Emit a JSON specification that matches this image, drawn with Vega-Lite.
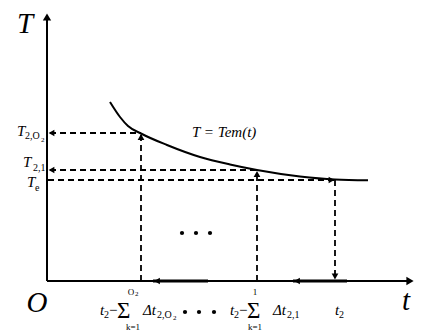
{
  "$schema": "https://vega.github.io/schema/vega-lite/v6.json",
  "width": 424,
  "height": 334,
  "autosize": {"type": "none"},
  "padding": 0,
  "background": "white",
  "config": {"view": {"stroke": null}, "text": {"font": "'Liberation Serif', 'DejaVu Serif', serif"}},
  "datasets": {
    "axes": [
      {"x": 0, "y": 0, "x2": 0, "y2": 26.6},
      {"x": 0, "y": 0, "x2": 36.5, "y2": 0}
    ],
    "thick": [
      {"x": 10.6, "y": 0, "x2": 16.1, "y2": 0},
      {"x": 24.6, "y": 0, "x2": 30.0, "y2": 0}
    ],
    "dashed": [
      {"x": 0.3, "y": 14.8, "x2": 9.4, "y2": 14.8},
      {"x": 0.3, "y": 11.1, "x2": 21.0, "y2": 11.1},
      {"x": 0.1, "y": 10.1, "x2": 28.8, "y2": 10.1},
      {"x": 9.4, "y": 0, "x2": 9.4, "y2": 14.8},
      {"x": 21.0, "y": 0, "x2": 21.0, "y2": 11.1},
      {"x": 28.8, "y": 10.1, "x2": 28.8, "y2": 0.3}
    ],
    "curve": [
      {"x": 6.3, "y": 17.9},
      {"x": 7.3, "y": 16.4},
      {"x": 8.1, "y": 15.5},
      {"x": 9.4, "y": 14.75},
      {"x": 12.0, "y": 13.6},
      {"x": 15.3, "y": 12.4},
      {"x": 18.3, "y": 11.65},
      {"x": 21.0, "y": 11.1},
      {"x": 25.3, "y": 10.45},
      {"x": 28.8, "y": 10.15},
      {"x": 32.1, "y": 10.07}
    ],
    "bigArrows": [
      {"x": 0, "y": 26.4, "dir": "up"},
      {"x": 36.3, "y": 0, "dir": "right"}
    ],
    "arrows": [
      {"x": 0.45, "y": 14.8, "dir": "left"},
      {"x": 0.45, "y": 11.1, "dir": "left"},
      {"x": 28.45, "y": 10.1, "dir": "right"},
      {"x": 9.4, "y": 14.4, "dir": "up"},
      {"x": 21.0, "y": 10.7, "dir": "up"},
      {"x": 28.8, "y": 0.45, "dir": "down"},
      {"x": 11.0, "y": 0, "dir": "left"},
      {"x": 25.0, "y": 0, "dir": "left"}
    ],
    "dots": [
      {"x": 13.5, "y": 4.8}, {"x": 14.9, "y": 4.8}, {"x": 16.3, "y": 4.8},
      {"x": 13.8, "y": -3.1}, {"x": 15.2, "y": -3.1}, {"x": 16.7, "y": -3.1}
    ],
    "big": [
      {"x": -2.2, "y": 24.8, "text": "T"},
      {"x": -1.0, "y": -3.1, "text": "O"},
      {"x": 35.9, "y": -2.9, "text": "t"}
    ],
    "med": [
      {"x": -3.0, "y": 14.5, "text": "T"},
      {"x": -2.4, "y": 11.4, "text": "T"},
      {"x": -2.0, "y": 9.4, "text": "T"},
      {"x": 14.5, "y": 14.4, "text": "T = Tem(t)"},
      {"x": 5.3, "y": -3.4, "text": "t"},
      {"x": 6.1, "y": -3.4, "text": "−"},
      {"x": 9.6, "y": -3.4, "text": "Δt"},
      {"x": 18.3, "y": -3.4, "text": "t"},
      {"x": 19.1, "y": -3.4, "text": "−"},
      {"x": 22.6, "y": -3.4, "text": "Δt"},
      {"x": 28.8, "y": -3.4, "text": "t"}
    ],
    "sub": [
      {"x": -2.2, "y": 14.2, "text": "2,O"},
      {"x": -1.4, "y": 11.0, "text": "2,1"},
      {"x": -1.2, "y": 9.0, "text": "e"},
      {"x": 5.7, "y": -3.7, "text": "2"},
      {"x": 11.0, "y": -3.7, "text": "2,O"},
      {"x": 18.7, "y": -3.7, "text": "2"},
      {"x": 24.0, "y": -3.7, "text": "2,1"},
      {"x": 29.2, "y": -3.7, "text": "2"}
    ],
    "subsub": [
      {"x": -0.6, "y": 13.9, "text": "2"},
      {"x": 12.6, "y": -3.9, "text": "2"},
      {"x": 8.8, "y": -1.5, "text": "2"}
    ],
    "sigma": [
      {"x": 7.0, "y": -3.7, "text": "Σ"},
      {"x": 20.0, "y": -3.7, "text": "Σ"}
    ],
    "lim": [
      {"x": 8.4, "y": -1.4, "text": "O"},
      {"x": 8.6, "y": -4.9, "text": "k=1"},
      {"x": 20.8, "y": -1.4, "text": "1"},
      {"x": 20.8, "y": -4.9, "text": "k=1"}
    ]
  },
  "encoding": {
    "x": {"field": "x", "type": "quantitative", "scale": {"domain": [-4.7, 37.7], "nice": false, "zero": false}, "axis": null},
    "y": {"field": "y", "type": "quantitative", "scale": {"domain": [-5.3, 28.1], "nice": false, "zero": false}, "axis": null}
  },
  "layer": [
    {
      "data": {"name": "axes"},
      "mark": {"type": "rule", "color": "black", "strokeWidth": 2},
      "encoding": {"x2": {"field": "x2"}, "y2": {"field": "y2"}}
    },
    {
      "data": {"name": "thick"},
      "mark": {"type": "rule", "color": "black", "strokeWidth": 2.8},
      "encoding": {"x2": {"field": "x2"}, "y2": {"field": "y2"}}
    },
    {
      "data": {"name": "dashed"},
      "mark": {"type": "rule", "color": "black", "strokeWidth": 1.8, "strokeDash": [6, 4]},
      "encoding": {"x2": {"field": "x2"}, "y2": {"field": "y2"}}
    },
    {
      "data": {"name": "curve"},
      "mark": {"type": "line", "color": "black", "strokeWidth": 2, "interpolate": "monotone"},
      "encoding": {}
    },
    {
      "data": {"name": "bigArrows"},
      "mark": {"type": "point", "filled": true, "color": "black", "opacity": 1, "size": 70},
      "encoding": {
        "shape": {"field": "dir", "type": "nominal", "scale": {"domain": ["up", "down", "left", "right"], "range": ["triangle-up", "triangle-down", "triangle-left", "triangle-right"]}, "legend": null}
      }
    },
    {
      "data": {"name": "arrows"},
      "mark": {"type": "point", "filled": true, "color": "black", "opacity": 1, "size": 45},
      "encoding": {
        "shape": {"field": "dir", "type": "nominal", "scale": {"domain": ["up", "down", "left", "right"], "range": ["triangle-up", "triangle-down", "triangle-left", "triangle-right"]}, "legend": null}
      }
    },
    {
      "data": {"name": "dots"},
      "mark": {"type": "point", "shape": "circle", "filled": true, "color": "black", "opacity": 1, "size": 18}
    },
    {
      "data": {"name": "big"},
      "mark": {"type": "text", "fontStyle": "italic", "fontSize": 29, "align": "center", "baseline": "alphabetic", "color": "black"},
      "encoding": {"text": {"field": "text"}}
    },
    {
      "data": {"name": "med"},
      "mark": {"type": "text", "fontStyle": "italic", "fontSize": 15, "align": "left", "baseline": "alphabetic", "color": "black"},
      "encoding": {"text": {"field": "text"}}
    },
    {
      "data": {"name": "sub"},
      "mark": {"type": "text", "fontSize": 10, "align": "left", "baseline": "alphabetic", "color": "black"},
      "encoding": {"text": {"field": "text"}}
    },
    {
      "data": {"name": "subsub"},
      "mark": {"type": "text", "fontSize": 7, "align": "left", "baseline": "alphabetic", "color": "black"},
      "encoding": {"text": {"field": "text"}}
    },
    {
      "data": {"name": "sigma"},
      "mark": {"type": "text", "fontSize": 23, "align": "left", "baseline": "alphabetic", "color": "black"},
      "encoding": {"text": {"field": "text"}}
    },
    {
      "data": {"name": "lim"},
      "mark": {"type": "text", "fontSize": 9, "align": "center", "baseline": "alphabetic", "color": "black"},
      "encoding": {"text": {"field": "text"}}
    }
  ]
}
